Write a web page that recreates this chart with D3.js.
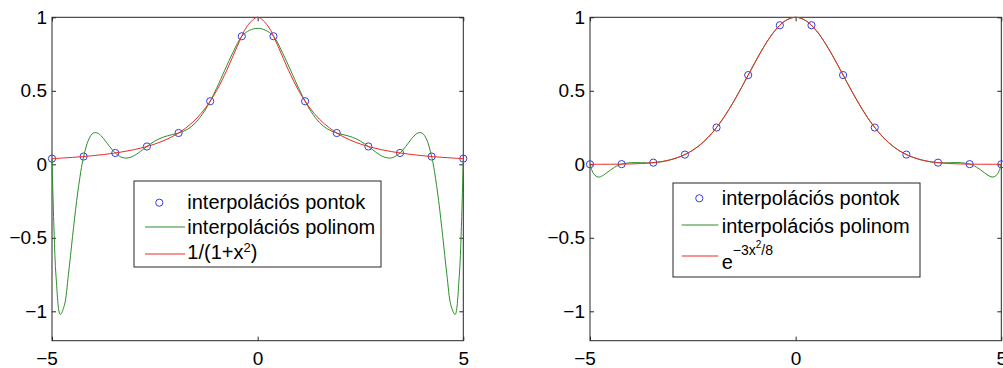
<!DOCTYPE html>
<html>
<head>
<meta charset="utf-8">
<script src="https://cdn.jsdelivr.net/npm/d3@7"></script>
<style>
  body { margin: 0; background: #fff; }
  svg { display: block; font-family: "Liberation Sans", Arial, sans-serif; }
  .tick line { stroke: #262626; }
  .tick text { font-size: 19px; fill: #000; }
</style>
</head>
<body>
<div id="chart"></div>
<script>

// tick labels
const xTicks = [-5, 0, 5];
const yTicks = [-1, -0.5, 0, 0.5, 1];
const legendLabels = ['interpolációs pontok', 'interpolációs polinom'];

// interpolation nodes (14 equidistant points)
const nodeX = [-5, -4.2308, -3.4615, -2.6923, -1.9231, -1.1538, -0.3846, 0.3846, 1.1538, 1.9231, 2.6923, 3.4615, 4.2308, 5];
const rungeNodeY = [0.0385, 0.0529, 0.0770, 0.1212, 0.2128, 0.4289, 0.8711, 0.8711, 0.4289, 0.2128, 0.1212, 0.0770, 0.0529, 0.0385];
const gaussNodeY = [0.0001, 0.0012, 0.0112, 0.0660, 0.2499, 0.6070, 0.9460, 0.9460, 0.6070, 0.2499, 0.0660, 0.0112, 0.0012, 0.0001];

// red curves
const funcX = [-5, -4.75, -4.5, -4.25, -4, -3.75, -3.5, -3.25, -3, -2.75, -2.5, -2.25, -2, -1.75, -1.5, -1.25, -1, -0.75, -0.5, -0.25,
  0, 0.25, 0.5, 0.75, 1, 1.25, 1.5, 1.75, 2, 2.25, 2.5, 2.75, 3, 3.25, 3.5, 3.75, 4, 4.25, 4.5, 4.75, 5];
const rungeY = [0.0385, 0.0424, 0.0471, 0.0525, 0.0588, 0.0664, 0.0755, 0.0865, 0.1, 0.1168, 0.1379, 0.1649, 0.2, 0.2462, 0.3077, 0.3902, 0.5, 0.64, 0.8, 0.9412,
  1, 0.9412, 0.8, 0.64, 0.5, 0.3902, 0.3077, 0.2462, 0.2, 0.1649, 0.1379, 0.1168, 0.1, 0.0865, 0.0755, 0.0664, 0.0588, 0.0525, 0.0471, 0.0424, 0.0385];
const gaussY = [0.0001, 0.0002, 0.0005, 0.0011, 0.0025, 0.0051, 0.0101, 0.0190, 0.0342, 0.0587, 0.0960, 0.1498, 0.2231, 0.3171, 0.4301, 0.5566, 0.6873, 0.8098, 0.9105, 0.9768,
  1, 0.9768, 0.9105, 0.8098, 0.6873, 0.5566, 0.4301, 0.3171, 0.2231, 0.1498, 0.0960, 0.0587, 0.0342, 0.0190, 0.0101, 0.0051, 0.0025, 0.0011, 0.0005, 0.0002, 0.0001];

// green curves (interpolating polynomials)
const rungePolyX = [-5, -4.95, -4.9, -4.8, -4.7, -4.6, -4.5, -4.4, -4.3, -4.2308, -4.1, -4.0, -3.9, -3.8, -3.7, -3.6, -3.4615, -3.3, -3.2, -3.1, -3.0, -2.9,
  -2.6923, -2.5, -2.3, -2.1, -1.9231, -1.7, -1.5, -1.3, -1.1538, -1.0, -0.8, -0.6, -0.3846, -0.2, 0,
  0.2, 0.3846, 0.6, 0.8, 1.0, 1.1538, 1.3, 1.5, 1.7, 1.9231, 2.1, 2.3, 2.5, 2.6923,
  2.9, 3.0, 3.1, 3.2, 3.3, 3.4615, 3.6, 3.7, 3.8, 3.9, 4.0, 4.1, 4.2308, 4.3, 4.4, 4.5, 4.6, 4.7, 4.8, 4.9, 4.95, 5];
const rungePolyY = [0.0385, -0.4546, -0.7702, -1.0216, -0.9599, -0.7481, -0.4903, -0.2473, -0.0502, 0.0529, 0.1743, 0.2117, 0.2135, 0.1920, 0.1582, 0.1213, 0.0770, 0.0472, 0.0424, 0.0471, 0.0595, 0.0774,
  0.1212, 0.1579, 0.1843, 0.2004, 0.2128, 0.2394, 0.2852, 0.3583, 0.4289, 0.5160, 0.6400, 0.7617, 0.8711, 0.9110, 0.9250,
  0.9110, 0.8711, 0.7617, 0.6400, 0.5160, 0.4289, 0.3583, 0.2852, 0.2394, 0.2128, 0.2004, 0.1843, 0.1579, 0.1212,
  0.0774, 0.0595, 0.0471, 0.0424, 0.0472, 0.0770, 0.1213, 0.1582, 0.1920, 0.2135, 0.2117, 0.1743, 0.0529, -0.0502, -0.2473, -0.4903, -0.7481, -0.9599, -1.0216, -0.7702, -0.4546, 0.0385];

const gaussPolyX = [-5, -4.95, -4.9, -4.8, -4.7, -4.6, -4.5, -4.4, -4.3, -4.2308, -4, -3.75, -3.5, -3.25, -3, -2.75, -2.5, -2.25, -2, -1.75, -1.5, -1.25, -1, -0.75, -0.5, -0.25,
  0, 0.25, 0.5, 0.75, 1, 1.25, 1.5, 1.75, 2, 2.25, 2.5, 2.75, 3, 3.25, 3.5, 3.75, 4, 4.2308, 4.3, 4.4, 4.5, 4.6, 4.7, 4.8, 4.9, 4.95, 5];
const gaussPolyY = [0.0001, -0.0427, -0.0688, -0.0868, -0.0785, -0.0594, -0.0383, -0.0198, -0.0057, 0.0012, 0.0113, 0.0107, 0.0106, 0.0175, 0.0342, 0.0587, 0.0960, 0.1498, 0.2231, 0.3171, 0.4301, 0.5566, 0.6873, 0.8098, 0.9105, 0.9768,
  1, 0.9768, 0.9105, 0.8098, 0.6873, 0.5566, 0.4301, 0.3171, 0.2231, 0.1498, 0.0960, 0.0587, 0.0342, 0.0175, 0.0106, 0.0107, 0.0113, 0.0012, -0.0057, -0.0198, -0.0383, -0.0594, -0.0785, -0.0868, -0.0688, -0.0427, 0.0001];


const width = 1003;
const height = 368;
const plotTop = 17.3, plotBottom = 340.7;

const blue = '#3a3ae6', green = '#2b8f2b', red = '#ec2a2a', axisColor = '#262626';

const fmt = v => String(v).replace('-', '\u2212');

const svg = d3.select('#chart')
  .append('svg')
    .attr('width', width)
    .attr('height', height);

const panels = [
  {
    left: 52, right: 463.3, nodeY: rungeNodeY, funcY: rungeY, polyX: rungePolyX, polyY: rungePolyY,
    legend: { x: 134, y: 181, w: 247, h: 86, marker: [159.3, 202.7], line: [145, 185], rows: [227, 254], textX: 187.3, base: [209, 234, 259] },
    label: (t) => {
      t.append('tspan').text('1/(1+x');
      t.append('tspan').attr('font-size', 13).attr('dy', -7).text('2');
      t.append('tspan').attr('dy', 7).text(')');
    }
  },
  {
    left: 590, right: 1001.3, nodeY: gaussNodeY, funcY: gaussY, polyX: gaussPolyX, polyY: gaussPolyY,
    legend: { x: 673, y: 183, w: 247, h: 94, marker: [699.3, 198.3], line: [681.7, 718.3], rows: [225, 256], textX: 721.7, base: [205, 232.5, 268.5] },
    label: (t) => {
      t.append('tspan').text('e');
      t.append('tspan').attr('font-size', 14).attr('dy', -14).text('\u22123x');
      t.append('tspan').attr('font-size', 10).attr('dy', -7).text('2');
      t.append('tspan').attr('font-size', 14).attr('dy', 7).text('/8');
    }
  }
];

panels.forEach(p => drawPanel(p));

function drawPanel(p) {

  const x = d3.scaleLinear().domain([-5, 5]).range([p.left, p.right]);
  const y = d3.scaleLinear().domain([-1.2, 1]).range([plotBottom, plotTop]);

  const g = svg.append('g');

  // axes, ticks pointing inward like matlab
  g.append('g')
    .attr('transform', `translate(0, ${plotBottom})`)
    .call(d3.axisBottom(x).tickValues(xTicks).tickSizeInner(-4).tickSizeOuter(0).tickPadding(11).tickFormat(fmt))
    .call(a => a.selectAll('text').attr('dx', d => d < 0 ? -5.5 : 0));
  g.append('g')
    .attr('transform', `translate(0, ${plotTop})`)
    .call(d3.axisTop(x).tickValues(xTicks).tickSizeInner(-4).tickSizeOuter(0).tickFormat(''));
  g.append('g')
    .attr('transform', `translate(${p.left}, 0)`)
    .call(d3.axisLeft(y).tickValues(yTicks).tickSizeInner(-4).tickSizeOuter(0).tickPadding(5).tickFormat(fmt));
  g.append('g')
    .attr('transform', `translate(${p.right}, 0)`)
    .call(d3.axisRight(y).tickValues(yTicks).tickSizeInner(-4).tickSizeOuter(0).tickFormat(''));
  g.selectAll('.domain').remove();

  g.append('rect')
    .attr('x', p.left).attr('y', plotTop)
    .attr('width', p.right - p.left).attr('height', plotBottom - plotTop)
    .style('fill', 'none').style('stroke', axisColor).style('stroke-width', 1);

  // interpolation points
  g.selectAll('.node')
    .data(nodeX.map((v, i) => [v, p.nodeY[i]]))
    .enter()
    .append('circle')
      .attr('class', 'node')
      .attr('cx', d => x(d[0]))
      .attr('cy', d => y(d[1]))
      .attr('r', 3.6)
      .style('fill', 'none')
      .style('stroke', blue)
      .style('stroke-width', 1);

  const line = d3.line()
    .x(d => x(d[0]))
    .y(d => y(d[1]))
    .curve(d3.curveCatmullRom.alpha(0.5));

  g.append('path')
    .datum(p.polyX.map((v, i) => [v, p.polyY[i]]))
    .attr('d', line)
    .style('fill', 'none').style('stroke', green).style('stroke-width', 1);

  g.append('path')
    .datum(funcX.map((v, i) => [v, p.funcY[i]]))
    .attr('d', line)
    .style('fill', 'none').style('stroke', red).style('stroke-width', 1);

  // legend
  const L = p.legend;
  const lg = g.append('g').style('font-size', '20px');
  lg.append('rect')
    .attr('x', L.x).attr('y', L.y).attr('width', L.w).attr('height', L.h)
    .style('fill', '#fff').style('stroke', axisColor).style('stroke-width', 1);

  lg.append('circle')
    .attr('cx', L.marker[0]).attr('cy', L.marker[1]).attr('r', 3.6)
    .style('fill', 'none').style('stroke', blue);
  [green, red].forEach((c, i) => {
    lg.append('line')
      .attr('x1', L.line[0]).attr('x2', L.line[1])
      .attr('y1', L.rows[i]).attr('y2', L.rows[i])
      .style('stroke', c).style('stroke-width', 1);
  });

  legendLabels.forEach((t, i) => {
    lg.append('text').attr('x', L.textX).attr('y', L.base[i]).text(t);
  });
  p.label(lg.append('text').attr('x', L.textX).attr('y', L.base[2]));
}

</script>
</body>
</html>
